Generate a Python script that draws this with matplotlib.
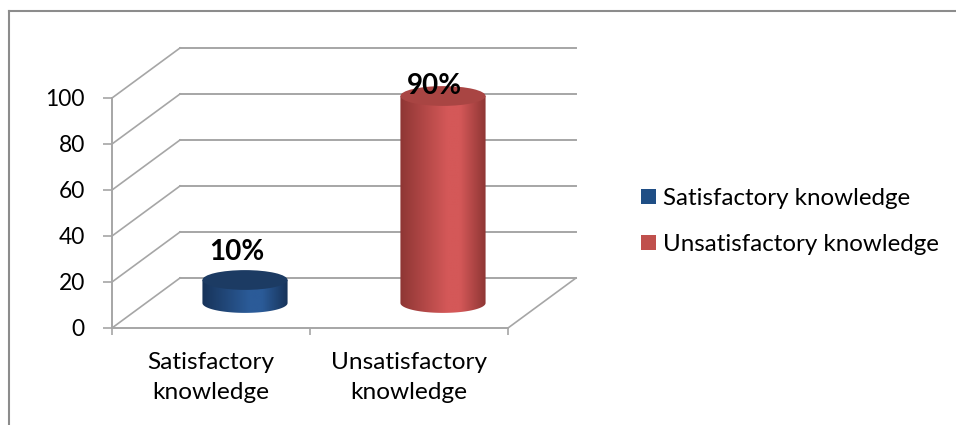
import numpy as np
import matplotlib
matplotlib.use("Agg")
import matplotlib.pyplot as plt
from matplotlib.patches import Ellipse, Polygon, Patch
from matplotlib.colors import LinearSegmentedColormap
from matplotlib.lines import Line2D

plt.rcParams['font.family'] = ['Lato', 'DejaVu Sans']

# ---- data ----
categories = ["Satisfactory\nknowledge", "Unsatisfactory\nknowledge"]
series_names = ["Satisfactory knowledge", "Unsatisfactory knowledge"]
values = [10, 90]
value_labels = ["10%", "90%"]
y_ticks = [0, 20, 40, 60, 80, 100]

# ---- styling ----
W, H, DPI = 956, 425, 100
fig = plt.figure(figsize=(W / DPI, H / DPI), dpi=DPI)
fig.patch.set_facecolor("white")

# front plane of the 3D box (pixels)
x0_px, x1_px, y0_px, y1_px = 112, 508, 328, 98
ax = fig.add_axes([x0_px / W, 1 - y0_px / H, (x1_px - x0_px) / W, (y0_px - y1_px) / H])
ax.set_facecolor("none")

grid_c = "#a6a6a6"
dx = 68 / 198.0          # depth offset in category units
dy = 50 / 2.3            # depth offset in value units

# back wall gridlines + diagonals on left side wall
for t in y_ticks:
    ax.plot([-0.5 + dx, 1.5 + dx], [t + dy, t + dy], color=grid_c, lw=1.4, clip_on=False, zorder=1)
    ax.plot([-0.5, -0.5 + dx], [t, t + dy], color=grid_c, lw=1.2, clip_on=False, zorder=1)
# floor right edge
ax.plot([1.5, 1.5 + dx], [0, dy], color=grid_c, lw=1.2, clip_on=False, zorder=1)

# cylinders
cyl_colors = [
    dict(edge="#173359", mid="#2b5b98", top="#1c3b63"),
    dict(edge="#8e3634", mid="#d45858", top="#a94543"),
]
a = 0.215     # half width (category units)
b = 4.3       # ellipse semi-height (value units)
base = dy / 2
for i, v in enumerate(values):
    cx = i + dx / 2
    top = base + v
    th = np.linspace(np.pi, 2 * np.pi, 80)
    pts = np.column_stack([cx + a * np.cos(th), base + b * np.sin(th)])
    pts = np.vstack([pts, [[cx + a, top], [cx - a, top]]])
    poly = Polygon(pts, closed=True, facecolor="none", edgecolor="none", clip_on=False)
    ax.add_patch(poly)
    c = cyl_colors[i]
    cmap = LinearSegmentedColormap.from_list(
        "g%d" % i, [(0, c["edge"]), (0.55, c["mid"]), (0.7, c["mid"]), (1, c["edge"])])
    grad = np.linspace(0, 1, 256).reshape(1, -1)
    im = ax.imshow(grad, cmap=cmap, aspect="auto", extent=[cx - a, cx + a, base - b, top],
                   origin="lower", zorder=3, interpolation="bilinear")
    im.set_clip_box(fig.bbox)
    im.set_clip_path(poly)
    ax.add_patch(Ellipse((cx, top), 2 * a, 2 * b, facecolor=c["top"], edgecolor="none",
                         zorder=4, clip_on=False))
    ax.text(i + 0.13, min(top + 12, 105), value_labels[i], ha="center", va="center",
            fontsize=20, fontweight="bold", color="black", zorder=6, clip_on=False)

ax.set_xlim(-0.5, 1.5)
ax.set_ylim(0, 100)

# axes / ticks
for s in ["top", "right"]:
    ax.spines[s].set_visible(False)
for s in ["left", "bottom"]:
    ax.spines[s].set_color(grid_c)
    ax.spines[s].set_linewidth(1.4)
ax.set_yticks(y_ticks)
ax.set_yticklabels([str(t) for t in y_ticks])
ax.tick_params(axis="y", length=6.5, width=1.2, color=grid_c, pad=13, labelsize=16.4,
               labelcolor="black")
ax.set_xticks([-0.5, 0.5, 1.5])
ax.set_xticklabels(["", "", ""])
ax.tick_params(axis="x", which="major", length=5, width=1.2, color=grid_c)
ax.set_xticks([0, 1], minor=True)
ax.set_xticklabels(categories, minor=True, fontsize=17.6, linespacing=1.55, color="black")
ax.tick_params(axis="x", which="minor", length=0, pad=17)

# legend
handles = [Patch(facecolor="#1f4e85", edgecolor="none"),
           Patch(facecolor="#c0504d", edgecolor="none")]
fig.legend(handles, series_names, loc="center left", bbox_to_anchor=(641 / W, 1 - 221.5 / H),
           frameon=False, fontsize=17.4, handlelength=0.6, handleheight=0.6,
           handletextpad=0.33, labelspacing=1.05, borderpad=0, borderaxespad=0)

# outer chart border (top and left)
fig.add_artist(Line2D([9 / W, 1], [1 - 11 / H, 1 - 11 / H], color="#8c8c8c", lw=1.5,
                      transform=fig.transFigure))
fig.add_artist(Line2D([9 / W, 9 / W], [0, 1 - 11 / H], color="#8c8c8c", lw=1.5,
                      transform=fig.transFigure))

fig.savefig("out.png", dpi=DPI, facecolor="white")
